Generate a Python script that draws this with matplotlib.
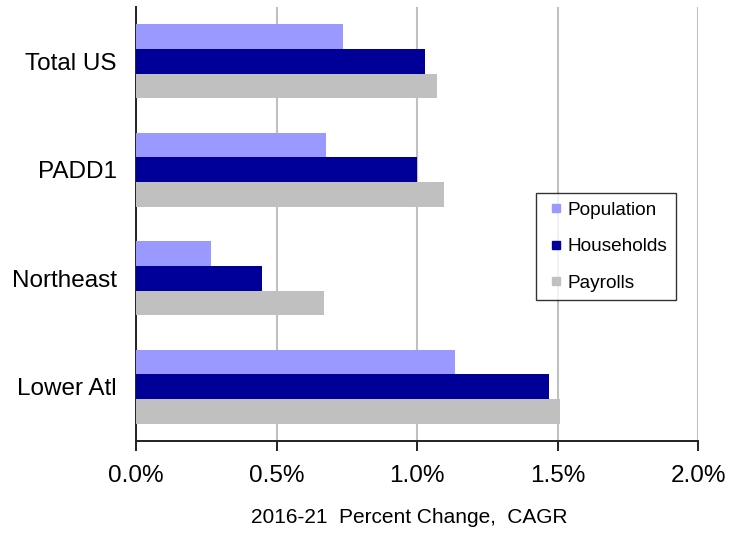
import matplotlib
matplotlib.use('Agg')
import matplotlib.pyplot as plt
import numpy as np
from matplotlib.ticker import FuncFormatter
from matplotlib.lines import Line2D

plt.rcParams['font.family'] = ['Liberation Sans', 'DejaVu Sans']

regions = ['Total US', 'PADD1', 'Northeast', 'Lower Atl']
population = [0.738, 0.676, 0.267, 1.135]
households = [1.027, 1.000, 0.448, 1.471]
payrolls = [1.072, 1.096, 0.669, 1.509]

series = [('Population', population, '#9999FF'),
          ('Households', households, '#000099'),
          ('Payrolls', payrolls, '#C0C0C0')]

fig = plt.figure(figsize=(7.3, 5.33), dpi=100)
ax = fig.add_axes([136 / 730, 1 - 441 / 533, 562 / 730, 434 / 533])

y = np.arange(len(regions))
h = 0.226
for i, (name, vals, col) in enumerate(series):
    ax.barh(y + (i - 1) * h, vals, height=h, color=col, zorder=3)

ax.set_xlim(0, 2.0)
ax.set_ylim(3.5, -0.5)
ax.set_xticks([0, 0.5, 1.0, 1.5, 2.0])
ax.xaxis.set_major_formatter(FuncFormatter(lambda v, p: f'{v:.1f}%'))
ax.set_yticks(y)
ax.set_yticklabels(regions)
ax.grid(axis='x', color='#C0C0C0', linewidth=1.5, zorder=0)

for s in ['top', 'right']:
    ax.spines[s].set_visible(False)
for s in ['left', 'bottom']:
    ax.spines[s].set_linewidth(1.4)
    ax.spines[s].set_color('#222222')

ax.tick_params(axis='x', length=7, width=1.4, color='#222222', pad=10, labelsize=17.5)
ax.tick_params(axis='y', length=0, pad=14, labelsize=17.5)

ax.set_xlabel('2016-21  Percent Change,  CAGR', fontsize=15)
ax.xaxis.set_label_coords(0.486, -0.155)

# small square markers for the legend keys
handles = [Line2D([], [], linestyle='none', marker='s', markersize=5.8,
                  markerfacecolor=col, markeredgecolor=col)
           for _, _, col in series]
labels = [name for name, _, _ in series]
leg = ax.legend(handles, labels, loc='upper left', bbox_to_anchor=(0.712, 0.571),
                borderaxespad=0, fontsize=13.7, frameon=True, fancybox=False,
                edgecolor='black', handlelength=1.2, handletextpad=0.0,
                labelspacing=1.0, borderpad=0.45)
leg.get_frame().set_linewidth(1.0)

fig.savefig('out.png', dpi=100)
